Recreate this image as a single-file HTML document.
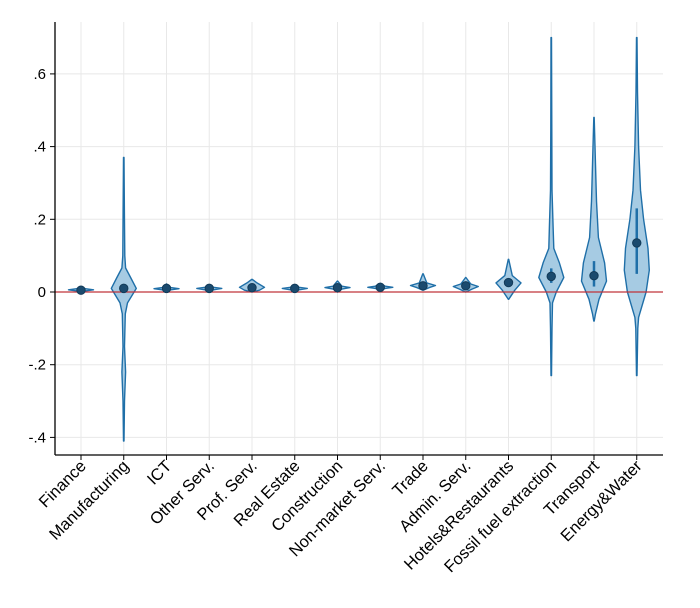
<!DOCTYPE html>
<html><head><meta charset="utf-8"><style>
body{margin:0;background:#fff;}
svg{display:block;font-family:"Liberation Sans",Arial,sans-serif;}
</style></head><body>
<svg id="chart" width="700" height="608" viewBox="0 0 700 608">
<g id="grid"></g>
<g id="violins"></g>
<g id="axes"></g>
</svg>
<script>
const categories=["Finance","Manufacturing","ICT","Other Serv.","Prof. Serv.","Real Estate","Construction","Non-market Serv.","Trade","Admin. Serv.","Hotels&Restaurants","Fossil fuel extraction","Transport","Energy&Water"];
const medians=[0.005,0.01,0.01,0.01,0.012,0.01,0.012,0.013,0.017,0.017,0.026,0.043,0.045,0.135];
const q1=[0.004,0.0,0.008,0.008,0.007,0.008,0.009,0.011,0.012,0.01,0.015,0.025,0.015,0.05];
const q3=[0.007,0.02,0.012,0.012,0.018,0.013,0.016,0.016,0.022,0.022,0.037,0.065,0.085,0.23];
// density knots: value and relative density (0..1)
const knotVals=[
[-0.003,0.003,0.006,0.009,0.013],
[-0.41,-0.3,-0.22,-0.15,-0.06,-0.03,0.01,0.04,0.066,0.1,0.22,0.37],
[0.0,0.006,0.009,0.012,0.022],
[0.0,0.006,0.01,0.013,0.02],
[0.0,0.005,0.013,0.025,0.035],
[0.0,0.006,0.01,0.013,0.02],
[0.0,0.008,0.012,0.016,0.03],
[0.004,0.01,0.013,0.016,0.024],
[0.005,0.012,0.018,0.025,0.05],
[0.0,0.008,0.015,0.022,0.04],
[-0.02,0.005,0.025,0.045,0.09],
[-0.23,-0.1,-0.03,0.0,0.04,0.08,0.12,0.18,0.28,0.45,0.7],
[-0.08,-0.06,-0.02,0.03,0.08,0.15,0.25,0.35,0.48],
[-0.23,-0.1,-0.07,0.0,0.06,0.12,0.2,0.28,0.4,0.55,0.7]];
const knotDens=[
[0,0.35,1,0.35,0],
[0,0.06,0.15,0.06,0.12,0.3,1,0.55,0.15,0.08,0.05,0],
[0,0.35,1,0.35,0],
[0,0.35,1,0.35,0],
[0,0.6,1,0.4,0],
[0,0.35,1,0.35,0],
[0,0.35,1,0.35,0],
[0,0.4,1,0.4,0],
[0,0.5,1,0.3,0],
[0,0.5,1,0.4,0],
[0,0.5,1,0.3,0],
[0,0.06,0.1,0.4,1,0.65,0.2,0.15,0.06,0.04,0],
[0,0.12,0.4,1,0.85,0.35,0.2,0.12,0],
[0,0.08,0.15,0.75,1,0.9,0.55,0.3,0.15,0.06,0]];
const yTicks=[-0.4,-0.2,0,0.2,0.4,0.6];
const yTickLabels=["-.4","-.2","0",".2",".4",".6"];

const NS="http://www.w3.org/2000/svg";
const L=55,R=663,T=22,B=455;
const x=i=>81+i*42.75;
const y=v=>292-v*363.5;
const maxHalf=12.5;
function mk(tag,attrs,parent){const e=document.createElementNS(NS,tag);for(const k in attrs)e.setAttribute(k,attrs[k]);parent.appendChild(e);return e;}
const grid=document.getElementById('grid'),vg=document.getElementById('violins'),ax=document.getElementById('axes');
yTicks.forEach((t,i)=>{
 const g=mk('line',{x1:L,x2:R,y1:y(t),y2:y(t),stroke:'#e8e8e8','stroke-width':1},grid);
 
 
});
categories.forEach((c,i)=>{
 const g=mk('line',{x1:x(i),x2:x(i),y1:T,y2:B,stroke:'#e8e8e8','stroke-width':1},grid);
 
 
});
categories.forEach((c,i)=>{
 const vs=knotVals[i],ds=knotDens[i],cx=x(i);
 let right=[],left=[];
 for(let k=0;k<vs.length;k++){const w=Math.max(ds[k]*maxHalf,0.2);right.push([cx+w,y(vs[k])]);left.push([cx-w,y(vs[k])]);}
 const pts=right.concat(left.reverse()).map(p=>p[0].toFixed(1)+','+p[1].toFixed(1)).join(' ');
 const p=mk('polygon',{points:pts,fill:'#a6cbe3',stroke:'#1f6fa8','stroke-width':1.4,'stroke-linejoin':'round'},vg);
 
 
 const bx=mk('line',{x1:cx,x2:cx,y1:y(q3[i]),y2:y(q1[i]),stroke:'#1f6fa8','stroke-width':2.5},vg);
 
 
});
const zl=mk('line',{x1:L,x2:R,y1:y(0),y2:y(0),stroke:'#c0343a','stroke-width':1.2},vg);


categories.forEach((c,i)=>{
 const d=mk('circle',{cx:x(i),cy:y(medians[i]),r:4.2,fill:'#1a4a6e',stroke:'#123a58','stroke-width':1},vg);
 
 
});
const ya=mk('line',{x1:L,x2:L,y1:T,y2:B,stroke:'#000','stroke-width':1.3},ax);


const xa=mk('line',{x1:L,x2:R,y1:B,y2:B,stroke:'#000','stroke-width':1.3},ax);


yTicks.forEach((t,i)=>{
 const tk=mk('line',{x1:L-5,x2:L,y1:y(t),y2:y(t),stroke:'#000','stroke-width':1},ax);
 
 
 const tx=mk('text',{x:L-9,y:y(t)+5,'text-anchor':'end','font-size':15,fill:'#000'},ax);
 tx.textContent=yTickLabels[i];
 
 
});
categories.forEach((c,i)=>{
 const tk=mk('line',{x1:x(i),x2:x(i),y1:B,y2:B+5,stroke:'#000','stroke-width':1},ax);
 
 
 const tx=mk('text',{x:0,y:0,'text-anchor':'end','font-size':16.5,fill:'#000',transform:'translate('+(x(i)+6)+','+(B+12)+') rotate(-45)'},ax);
 tx.textContent=c;
 
 
});
</script>
</body></html>
